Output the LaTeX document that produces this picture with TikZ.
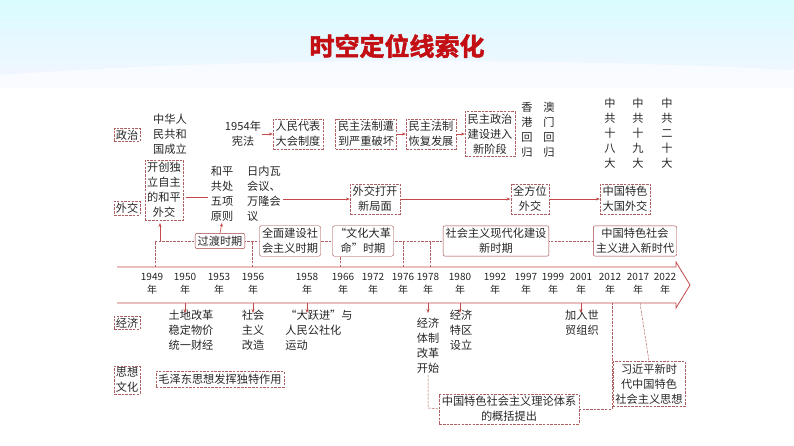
\documentclass[tikz,border=0pt]{standalone}
\usepackage{fontspec}
\setmainfont{Noto Sans CJK SC}
\newfontfamily\titlefont[FakeBold=2]{Noto Sans CJK SC Bold}
\usetikzlibrary{arrows.meta}
\definecolor{rl}{RGB}{196,72,72}
\definecolor{db}{RGB}{175,95,95}
\definecolor{sb}{RGB}{160,60,60}
\definecolor{tred}{RGB}{195,15,20}
\begin{document}
\begin{tikzpicture}[x=1pt,y=-1pt,
  txt/.style={font=\fontsize{11.2}{15}\selectfont,align=center,inner sep=1pt,text=black!85},
  dbox/.style={txt,draw=db,dashed,dash pattern=on 2.5pt off 1.2pt,inner sep=2.5pt},
  pbox/.style={txt,draw=sb,rounded corners=2pt,inner sep=2.5pt,fill=white},
  lab/.style={dbox,inner sep=1.5pt},
  conn/.style={draw=rl,line width=0.6pt},
  arr/.style={conn,-{Stealth[length=4pt,width=3pt]}},
  dsh/.style={draw=db,dashed,dash pattern=on 2.5pt off 1.2pt,line width=0.5pt}]
\useasboundingbox (0,0) rectangle (794,446);
\shade[top color=blue!8!cyan!15,bottom color=blue!4] (0,0) rectangle (794,88);
\fill[white,opacity=0.6] (0,75) .. controls (200,60) and (500,55) .. (794,70) -- (794,88) -- (0,88) -- cycle;
\node[font=\titlefont\fontsize{25}{25}\selectfont,text=tred] (title) at (397,46) {时空定位线索化};
% timeline
\draw[rl,line width=0.8pt,fill=white] (117,267) -- (676,267) -- (676,262) -- (690,285) -- (676,308) -- (676,303) -- (117,303);
\foreach \x/\y in {152/1949,185/1950,219/1953,253/1956,307/1958,343/1966,373/1972,403/1976,428/1978,460/1980,495/1992,526/1997,553/1999,581/2001,610/2012,638/2017,665/2022}
  \node[txt,font=\fontsize{10}{13.5}\selectfont] (y\y) at (\x,284) {\y\\年};
% row labels
\node[lab] (zz) at (127,135) {政治};
\node[lab] (wj) at (127,208) {外交};
\node[lab] (jj) at (127,323) {经济};
\node[lab] (sx) at (127,380) {思想\\文化};
% politics
\node[txt] (prc) at (170,134) {中华人\\民共和\\国成立};
\node[txt] (xf) at (243,134) {1954年\\宪法};
\node[dbox] (rd) at (298,134) {人民代表\\大会制度};
\node[dbox] (pz) at (366,134) {民主法制遭\\到严重破坏};
\node[dbox] (hf) at (431,134) {民主法制\\恢复发展};
\node[dbox] (xj) at (490,134) {民主政治\\建设进入\\新阶段};
\draw[arr] (xf) -- (rd);
\draw[arr] (pz) -- (hf);
\draw[arr] (hf) -- (xj);
\node[txt] (hk) at (527,130) {香\\港\\回\\归};
\node[txt] (mc) at (549,130) {澳\\门\\回\\归};
\node[txt] (d18) at (610,133) {中\\共\\十\\八\\大};
\node[txt] (d19) at (638,133) {中\\共\\十\\九\\大};
\node[txt] (d20) at (667,133) {中\\共\\二\\十\\大};
% diplomacy
\node[dbox] (kc) at (164,190) {开创独\\立自主\\的和平\\外交};
\node[txt] (hp) at (222,194) {和平\\共处\\五项\\原则};
\node[txt,align=left] (rn) at (264,194) {日内瓦\\会议、\\万隆会\\议};
\node[dbox] (xjj) at (375,199) {外交打开\\新局面};
\node[dbox] (qf) at (530,199) {全方位\\外交};
\node[dbox] (dg) at (625,199) {中国特色\\大国外交};
\coordinate (a1) at (186,197);
\coordinate (a2) at (208,197);
\coordinate (a3) at (283,199);
\draw[conn] (a1) -- (a2);
\draw[arr] (a3) -- (xjj);
\draw[arr] (xjj) -- (qf);
\draw[arr] (qf) -- (dg);
% periods
\draw[dsh] (155,267) -- (155,241) -- (592,241);
\foreach \x in {252,340,403,430} \draw[dsh] (\x,267) -- (\x,241);
\node[pbox] (gd) at (220,241) {过渡时期};
\node[pbox] (qm) at (290,241) {全面建设社\\会主义时期};
\node[pbox] (wg) at (363,241) {“文化大革\\命”时期};
\node[pbox] (xd) at (496,241) {社会主义现代化建设\\新时期};
\node[pbox] (xsd) at (635,241) {中国特色社会\\主义进入新时代};
\coordinate (b1) at (160,241);
\coordinate (b2) at (160,223);
\draw[arr] (b1) -- (b2);
\draw[arr] (gd.north) -- (hp.south);
% economy
\node[txt] (td) at (191,330) {土地改革\\稳定物价\\统一财经};
\node[txt] (sh) at (253,330) {社会\\主义\\改造};
\node[txt,align=left] (dy) at (319,330) {“大跃进”与\\人民公社化\\运动};
\node[txt] (tz) at (428,346) {经济\\体制\\改革\\开始};
\node[txt] (tq) at (461,330) {经济\\特区\\设立};
\node[txt] (wto) at (582,323) {加入世\\贸组织};
\foreach \x in {185,253,307,428,460,581}
  \draw[arr] (\x,303) -- (\x,313);
% thought
\node[dbox] (mz) at (220,379) {毛泽东思想发挥独特作用};
\node[dbox] (ll) at (509,409) {中国特色社会主义理论体系\\的概括提出};
\node[dbox] (xt) at (649,384) {习近平新时\\代中国特色\\社会主义思想};
\draw[dsh] (tz.south) -- (428,408) -- (ll.west);
\draw[dsh] (ll.east) -- (612,409) -- (612,303);
\draw[dsh] (640,303) -- (xt.north);
\end{tikzpicture}
\end{document}
